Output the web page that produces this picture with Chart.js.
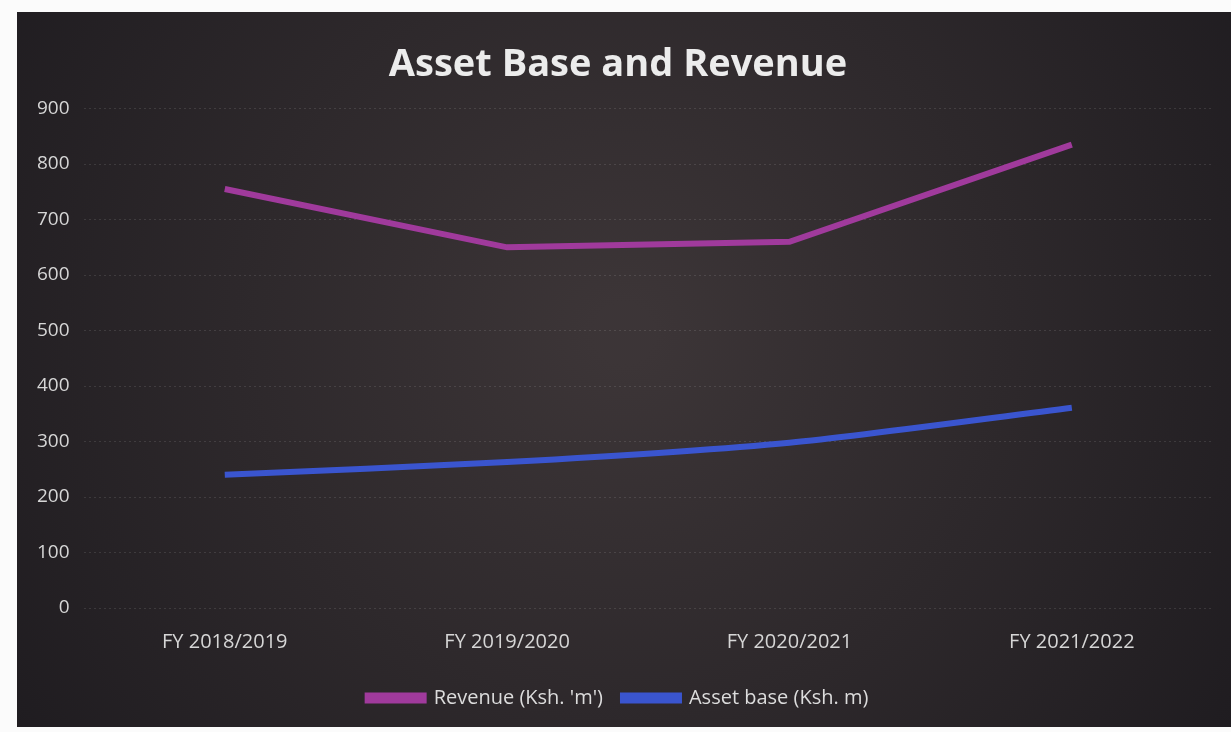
<!DOCTYPE html>
<html>
<head>
<meta charset="utf-8">
<script src="https://cdn.jsdelivr.net/npm/chart.js@4"></script>
<style>
  html, body { margin: 0; padding: 0; background: #fbfbfb; }
  #wrap { position: absolute; left: 17px; top: 12px; width: 1214px; height: 715px; background: #262326; }
</style>
</head>
<body>
<div id="wrap"><canvas id="grafico"></canvas></div>
<script>
// dados do gráfico
const categorias = ['FY 2018/2019', 'FY 2019/2020', 'FY 2020/2021', 'FY 2021/2022'];
const receita = [755, 650, 660, 835];
const ativos = [240, 263, 298, 361];
const ticksY = [0, 100, 200, 300, 400, 500, 600, 700, 800, 900];

// fundo escuro com centro mais claro
const fundo = {
    id: 'fundo',
    beforeDraw(chart) {
        const { ctx, width, height } = chart;
        const g = ctx.createRadialGradient(width * 0.5, height * 0.45, 30, width * 0.5, height * 0.45, width * 0.6);
        g.addColorStop(0, '#3c3537');
        g.addColorStop(1, '#1f1c20');
        ctx.save();
        ctx.fillStyle = g;
        ctx.fillRect(0, 0, width, height);
        ctx.restore();
    }
};

const config = {
    type: 'line',
    data: {
        labels: categorias,
        datasets: [{
            label: "Revenue (Ksh. 'm')",
            data: receita,
            borderColor: '#a03a9c',
            backgroundColor: '#a03a9c',
            borderWidth: 6,
            pointRadius: 0,
            tension: 0
        }, {
            label: 'Asset base (Ksh. m)',
            data: ativos,
            borderColor: '#3a55cf',
            backgroundColor: '#3a55cf',
            borderWidth: 6,
            pointRadius: 0,
            tension: 0.25
        }]
    },
    options: {
        responsive: true,
        maintainAspectRatio: false,
        animation: false,
        layout: { padding: { left: 6, right: 18, top: 22, bottom: 9 } },
        plugins: {
            title: {
                display: true,
                text: 'Asset Base and Revenue',
                color: '#ececec',
                font: { family: 'Open Sans', size: 38, weight: 'bold' },
                padding: { top: 8, bottom: 21 }
            },
            legend: {
                position: 'bottom',
                labels: {
                    color: '#dcdcdc',
                    font: { family: 'Open Sans', size: 20 },
                    boxWidth: 56,
                    boxHeight: 5,
                    padding: 20
                }
            },
            tooltip: { enabled: false }
        },
        scales: {
            x: {
                offset: true,
                grid: { display: false },
                border: { display: false },
                ticks: {
                    color: '#d6d6d6',
                    font: { family: 'Open Sans', size: 20 },
                    padding: 14,
                    maxRotation: 0
                }
            },
            y: {
                min: 0,
                max: 900,
                afterBuildTicks(axis) { axis.ticks = ticksY.map(v => ({ value: v })); },
                grid: { color: 'rgba(255,255,255,0.11)', lineWidth: 1, drawTicks: false },
                border: { display: false, dash: [2, 3] },
                ticks: {
                    color: '#d6d6d6',
                    font: { family: 'Open Sans', size: 19 },
                    padding: 14
                }
            }
        }
    },
    plugins: [fundo]
};

const ctx = document.getElementById('grafico').getContext('2d');
new Chart(ctx, config);
</script>
</body>
</html>
